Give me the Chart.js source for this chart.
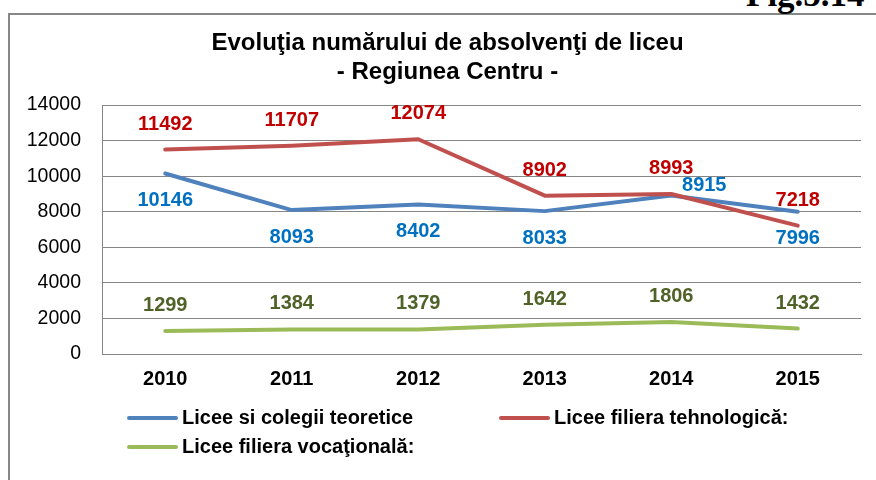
<!DOCTYPE html>
<html><head><meta charset="utf-8">
<script src="https://cdn.jsdelivr.net/npm/chart.js@4.4.1/dist/chart.umd.min.js"></script>
<style>
html,body{margin:0;padding:0;background:#fff;overflow:hidden;width:876px;height:480px;}
#frame{position:absolute;left:8px;top:13px;width:900px;height:520px;border:2px solid #878787;box-sizing:border-box;}
#fig{position:absolute;left:746px;top:-23px;font:bold 35px "Liberation Serif","Times New Roman",serif;line-height:35px;color:#000;white-space:nowrap;}
#wrap{position:absolute;left:0;top:0;width:876px;height:480px;}
</style></head><body>
<div id="frame"></div>
<div id="fig">Fig.5.14</div>
<div id="wrap"><canvas id="c" width="876" height="480"></canvas></div>
<script>
// ---- data ----
const years = ['2010', '2011', '2012', '2013', '2014', '2015'];
const teoretice = [10146, 8093, 8402, 8033, 8915, 7996];
const tehnologica = [11492, 11707, 12074, 8902, 8993, 7218];
const vocationala = [1299, 1384, 1379, 1642, 1806, 1432];
const seriesNames = ['Licee si colegii teoretice', 'Licee filiera tehnologică:', 'Licee filiera vocaţională:'];
const yTicks = [0, 2000, 4000, 6000, 8000, 10000, 12000, 14000];
const titleLines = ['Evoluţia numărului de absolvenţi de liceu', '- Regiunea Centru -'];
// where each value label sits relative to its point
const placeTeoretice = ['below', 'below', 'below', 'below', 'right', 'below'];
const placeTehnologica = ['above', 'above', 'above', 'above', 'above', 'above'];
const placeVocationala = ['above', 'above', 'above', 'above', 'above', 'above'];

const FAMILY = '"Liberation Sans", Arial, sans-serif';
Chart.defaults.font.family = FAMILY;

const chartTitle = {
  id: 'chartTitle',
  afterDraw(chart) {
    const ctx = chart.ctx;
    ctx.save();
    ctx.font = 'bold 24px ' + FAMILY;
    ctx.fillStyle = '#000';
    ctx.textAlign = 'center';
    ctx.textBaseline = 'middle';
    titleLines.forEach((t, i) => ctx.fillText(t, 447.5, 43.5 + i * 28.8));
    ctx.restore();
  }
};

const valueLabels = {
  id: 'valueLabels',
  afterDatasetsDraw(chart) {
    const ctx = chart.ctx;
    chart.data.datasets.forEach((ds, i) => {
      const meta = chart.getDatasetMeta(i);
      ctx.save();
      ctx.font = 'bold 20px ' + FAMILY;
      ctx.fillStyle = ds.labelColor;
      ctx.textAlign = 'center';
      ctx.textBaseline = 'middle';
      meta.data.forEach((pt, j) => {
        const p = ds.labelPlace[j];
        let dx = 0, dy = 0;
        if (p === 'above') dy = -25.5;
        else if (p === 'below') dy = 27;
        else if (p === 'right') { dx = 33; dy = -10; }
        ctx.fillText(String(ds.data[j]), pt.x + dx, pt.y + dy);
      });
      ctx.restore();
    });
  }
};

const gridLegend = {
  id: 'gridLegend',
  afterDraw(chart) {
    const ctx = chart.ctx;
    const left = 127, colW = 372, rowH = 29, top = 418, lineLen = 51, gap = 4;
    chart.data.datasets.forEach((ds, i) => {
      const col = i % 2, row = Math.floor(i / 2);
      const x = left + col * colW, y = top + row * rowH;
      ctx.save();
      ctx.strokeStyle = ds.borderColor;
      ctx.lineWidth = 4;
      ctx.lineCap = 'round';
      ctx.beginPath();
      ctx.moveTo(x + 2, y);
      ctx.lineTo(x + lineLen - 2, y);
      ctx.stroke();
      ctx.fillStyle = '#000';
      ctx.font = 'bold 20px ' + FAMILY;
      ctx.textAlign = 'left';
      ctx.textBaseline = 'middle';
      ctx.fillText(ds.label, x + lineLen + gap, y);
      ctx.restore();
    });
  }
};

new Chart(document.getElementById('c'), {
  type: 'line',
  data: {
    labels: years,
    datasets: [
      { label: seriesNames[0], data: teoretice, borderColor: '#4F81BD', labelColor: '#0070C0', labelPlace: placeTeoretice, order: 3 },
      { label: seriesNames[1], data: tehnologica, borderColor: '#C0504D', labelColor: '#C00000', labelPlace: placeTehnologica, order: 2 },
      { label: seriesNames[2], data: vocationala, borderColor: '#9BBB59', labelColor: '#4F6228', labelPlace: placeVocationala, order: 1 }
    ]
  },
  options: {
    responsive: false,
    animation: false,
    layout: { padding: { top: 105, left: 0, right: 15, bottom: 0 } },
    elements: {
      line: { borderWidth: 4, tension: 0, borderJoinStyle: 'round', borderCapStyle: 'round', fill: false },
      point: { radius: 0, hoverRadius: 0 }
    },
    plugins: {
      legend: { display: false },
      tooltip: { enabled: false },
      title: { display: false }
    },
    scales: {
      x: {
        offset: true,
        grid: { display: false, drawTicks: false },
        border: { display: true, color: '#868686', width: 1 },
        ticks: { color: '#000', font: { size: 20, weight: 'bold' }, padding: 13 },
        afterFit(s) { s.height = 126; }
      },
      y: {
        min: 0, max: 14000,
        afterBuildTicks(s) { s.ticks = yTicks.map(v => ({ value: v })); },
        ticks: { padding: 21, color: '#000', font: { size: 19.5 }, callback: v => String(v) },
        grid: { color: '#868686', drawTicks: false, lineWidth: 1 },
        border: { display: true, color: '#868686', width: 1 },
        afterFit(s) { s.width = 102; }
      }
    }
  },
  plugins: [chartTitle, valueLabels, gridLegend]
});
</script>
</body></html>
